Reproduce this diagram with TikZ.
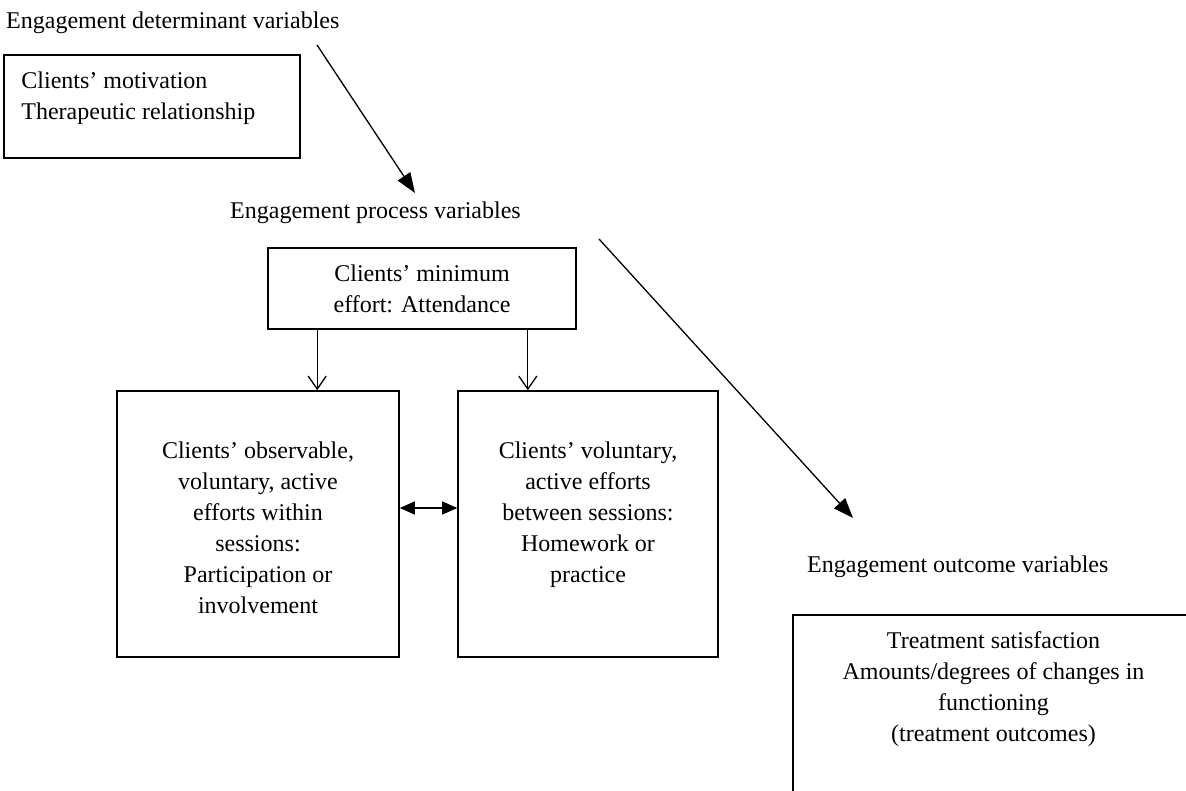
\documentclass[tikz,border=0pt]{standalone}
\usepackage{fontspec}
\setmainfont{Liberation Serif}
\usepackage{tikz}
\usetikzlibrary{positioning,arrows.meta}

\tikzset{
  heading/.style={font=\fontsize{24}{31}\selectfont, inner sep=0pt},
  boxtext/.style={heading, align=center},
  varbox/.style={draw, line width=1.6pt, inner sep=0pt},
  bigarrow/.style={line width=1.3pt, -{Triangle[length=20pt,width=15pt]}},
  openarrow/.style={line width=1.3pt, -{Straight Barb[length=13pt,width=18pt,line width=1.3pt]}},
  twoarrow/.style={line width=1.3pt, {Triangle[length=15pt,width=13pt]}-{Triangle[length=15pt,width=13pt]}}
}

\begin{document}
\begin{tikzpicture}[x=1pt,y=-1pt]
    \useasboundingbox (0,0) rectangle (1186,790);
    \clip (0,0) rectangle (1186,790);

    % Define nodes
    \node[heading, anchor=base west]		(dettitle)	at (6,28)	{Engagement determinant variables};
    \node[varbox, minimum width=296pt, minimum height=103pt]	(detbox)	at (152,106.5)	{};
    \node[heading, align=left, anchor=north west]	(dettext)	at ([xshift=18pt,yshift=-17pt]detbox.north west)	{Clients’ motivation\\Therapeutic relationship};

    \node[heading, anchor=base west]		(proctitle)	at (230,218)	{Engagement process variables};
    \node[varbox, minimum width=308pt, minimum height=81pt]	(minbox)	at (422,288.5)	{};
    \node[boxtext, anchor=north]	(mintext)	at ([yshift=-17pt]minbox.north)	{Clients’ minimum\\effort: Attendance};

    \node[varbox, minimum width=282pt, minimum height=266pt]	(withinbox)	at (258,524)	{};
    \node[boxtext, anchor=north]	(withintext)	at ([yshift=-51pt]withinbox.north)	{Clients’ observable,\\voluntary, active\\efforts within\\sessions:\\Participation or\\involvement};
    \node[varbox, minimum width=260pt, minimum height=266pt]	(betweenbox)	at (588,524)	{};
    \node[boxtext, anchor=north]	(betweentext)	at ([yshift=-51pt]betweenbox.north)	{Clients’ voluntary,\\active efforts\\between sessions:\\Homework or\\practice};

    \node[heading, anchor=base west]		(outtitle)	at (807,572)	{Engagement outcome variables};
    \node[varbox, minimum width=401pt, minimum height=215pt]	(outbox)	at (993.5,722.5)	{};
    \node[boxtext, anchor=north]	(outtext)	at ([yshift=-17pt]outbox.north)	{Treatment satisfaction\\Amounts/degrees of changes in\\functioning\\(treatment outcomes)};

    \coordinate (detout) at (317,45);
    \coordinate (procin) at (415,193);
    \coordinate (procout) at (599,239);
    \coordinate (outin) at (853,518);

    % Connect nodes
    \draw[bigarrow] (detout) -- (procin);
    \draw[bigarrow] (procout) -- (outin);
    \draw[openarrow] ([xshift=50pt]minbox.south west) coordinate (leftdrop) -- (leftdrop |- withinbox.north);
    \draw[openarrow] ([xshift=-49pt]minbox.south east) coordinate (rightdrop) -- (rightdrop |- betweenbox.north);
    \draw[twoarrow] ([yshift=16pt]withinbox.east) -- ([yshift=16pt]betweenbox.west);
\end{tikzpicture}
\end{document}
